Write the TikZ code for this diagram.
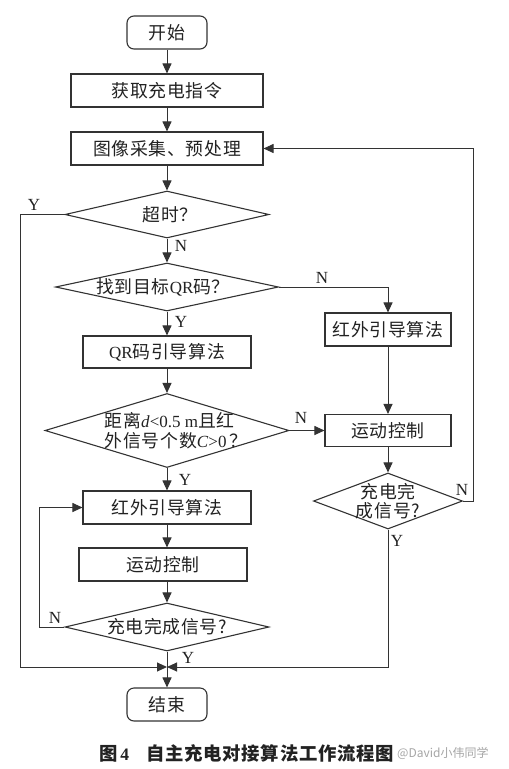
\documentclass[tikz,border=0pt]{standalone}
\usepackage{fontspec}
\setmainfont{Liberation Serif}
\newfontfamily\cjk[Scale=1.05,LetterSpace=4]{Noto Sans CJK SC}
\newfontfamily\cjkplain{Noto Sans CJK SC}
\usetikzlibrary{arrows.meta,shapes.geometric}
\definecolor{linec}{HTML}{333333}
\definecolor{txtc}{HTML}{222222}
\newcommand\zh[1]{{\cjk #1}}
\begin{document}
\begin{tikzpicture}[x=1pt,y=-1pt,
  every node/.style={text=txtc},
  ln/.style={draw=linec,line width=1pt},
  arr/.style={ln,-{Triangle[length=10pt,width=9pt]}},
  box/.style={draw=linec,line width=1.1pt,inner sep=0pt,font=\fontsize{17}{20}\selectfont},
  term/.style={box,rounded corners=7pt,minimum width=80pt,minimum height=33pt},
  dia/.style={diamond,draw=linec,line width=1.1pt,inner sep=0pt},
  dtext/.style={font=\fontsize{17}{20}\selectfont,inner sep=0pt,text=txtc},
  yn/.style={font=\fontsize{17}{20}\selectfont,inner sep=0pt}
]
\fill[white] (0,0) rectangle (509,769);
\useasboundingbox (0,0) rectangle (509,769);

% main column
\node[term] (start) at (167,32.5) {\zh{开始}};
\node[box,minimum width=192pt,minimum height=33pt] (get) at (167,90.5) {\zh{获取充电指令}};
\node[box,minimum width=192pt,minimum height=33pt] (img) at (167,148.5) {\zh{图像采集、预处理}};
\node[dia,minimum width=204pt,minimum height=47pt,label={[dtext,xshift=3pt]center:\zh{超时？}}] (d1) at (167,214.5) {};
\node[dia,minimum width=223pt,minimum height=48pt,label={[dtext,xshift=-4pt]center:\zh{找到目标}QR\zh{码？}}] (d2) at (167,287) {};
\node[box,minimum width=168pt,minimum height=32pt] (qr) at (167,352) {QR\zh{码引导算法}};
\node[dia,minimum width=244pt,minimum height=74pt,label={[dtext,align=left,xshift=9pt,font=\fontsize{17}{20.5}\selectfont]center:\zh{距离}\textit{d}<0.5 m\zh{且红}\\\zh{外信号个数}\textit{C}>0\,\zh{？}}] (d3) at (167,430.5) {};
\node[box,minimum width=168pt,minimum height=33pt] (ir) at (167,507.5) {\zh{红外引导算法}};
\node[box,minimum width=168pt,minimum height=33pt] (mc) at (163,564.5) {\zh{运动控制}};
\node[dia,minimum width=204pt,minimum height=48pt,label={[dtext]center:\zh{充电完成信号?}}] (d5) at (167,627) {};
\node[term] (end) at (167,704.5) {\zh{结束}};

% right column
\node[box,minimum width=126pt,minimum height=33pt] (rA) at (388,329.5) {\zh{红外引导算法}};
\node[box,minimum width=126pt,minimum height=32pt] (rB) at (388,430.5) {\zh{运动控制}};
\node[dia,minimum width=149pt,minimum height=56pt,label={[dtext,align=center,font=\fontsize{17}{19}\selectfont]center:\zh{充电完}\\\zh{成信号?}}] (d4) at (388,501) {};

% helper coordinates
\coordinate (J) at (167,667);
\coordinate (jl) at (20,667);
\coordinate (lf) at (39,627);
\coordinate (rt) at (473,148.5);

% connectors
\draw[arr] (start) -- (get);
\draw[arr] (get) -- (img);
\draw[arr] (img) -- (d1);
\draw[arr] (d1.west) -| (jl) -- (J);
\draw[arr] (d1) -- (d2);
\draw[arr] (d2.east) -| (rA.north);
\draw[arr] (d2) -- (qr);
\draw[arr] (qr) -- (d3);
\draw[arr] (d3.east) -- (rB.west);
\draw[arr] (rA) -- (rB);
\draw[arr] (rB) -- (d4);
\draw[arr] (d4.east) -| (rt) -- (img.east);
\draw[arr] (d4.south) |- (J);
\draw[arr] (d3) -- (ir);
\draw[arr] (ir.south) -- (ir.south |- mc.north);
\draw[arr] (mc.south -| ir.south) -- (d5);
\draw[arr] (d5.west) -- (lf) |- (ir.west);
\draw[arr] (d5.south) -- (end);

% Y/N labels
\node[yn] (l1) at (34,205) {Y};
\node[yn] (l2) at (181,246) {N};
\node[yn] (l3) at (322,278) {N};
\node[yn] (l4) at (181,322) {Y};
\node[yn] (l5) at (301,418) {N};
\node[yn] (l6) at (185,480) {Y};
\node[yn] (l7) at (462,490) {N};
\node[yn] (l8) at (397,541) {Y};
\node[yn] (l9) at (55,618) {N};
\node[yn] (l10) at (188,658) {Y};

% caption and watermark
\node[anchor=west,inner sep=0pt,font=\fontsize{17.5}{20}\selectfont\bfseries] (cap) at (99,753) {\zh{图}\,4\hspace{17pt}\zh{自主充电对接算法工作流程图}};
\node[anchor=west,inner sep=0pt,text=gray!70,font=\cjkplain\fontsize{12}{14}\selectfont] (wm) at (397,753) {@David小伟同学};
\end{tikzpicture}
\end{document}
